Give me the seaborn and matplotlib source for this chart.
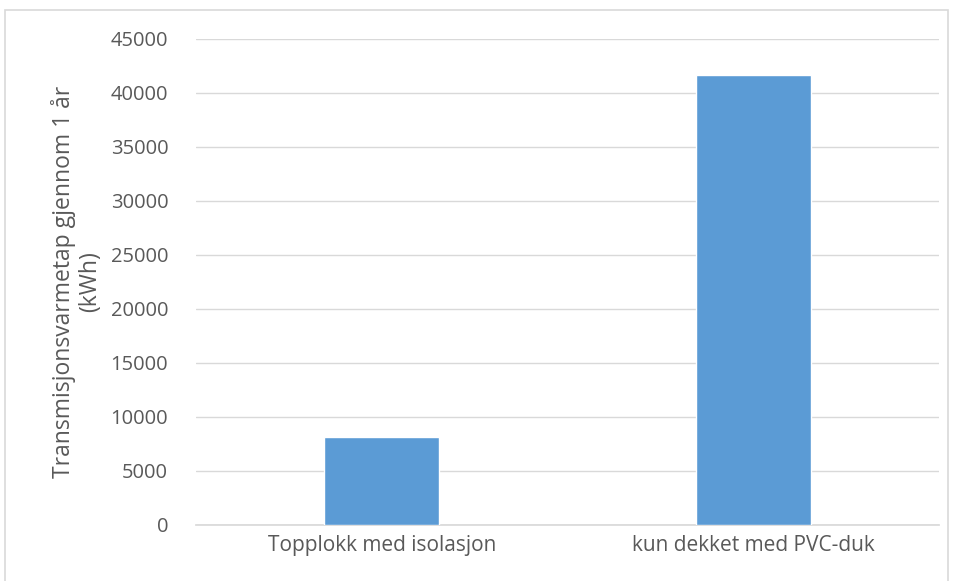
import matplotlib
matplotlib.use("Agg")
import matplotlib.pyplot as plt
import seaborn as sns
import pandas as pd
from matplotlib.patches import Rectangle

categories = ["Topplokk med isolasjon", "kun dekket med PVC-duk"]
values = [8120, 41640]
yticks = [0, 5000, 10000, 15000, 20000, 25000, 30000, 35000, 40000, 45000]

sns.set_theme(style="white")
plt.rcParams['font.family'] = ['Open Sans', 'DejaVu Sans']

df = pd.DataFrame({"cat": categories, "val": values})

fig = plt.figure(figsize=(9.55, 5.81), dpi=100)
ax = fig.add_axes([196/955, 1-525/581, (939-196)/955, (525-39)/581])

sns.barplot(data=df, x="cat", y="val", color="#5B9BD5", width=0.31, ax=ax,
            saturation=1, zorder=3)
ax.set_ylim(0, 45000)
ax.set_yticks(yticks)
ax.set_yticklabels([str(t) for t in yticks])
ax.set_xlim(-0.5, 1.5)
ax.grid(axis="y", color="#D9D9D9", linewidth=1, zorder=0)
for s in ["top", "right", "left"]:
    ax.spines[s].set_visible(False)
ax.spines["bottom"].set_color("#D9D9D9")
ax.tick_params(axis="x", length=0, labelsize=15, colors="#595959", pad=7)
ax.tick_params(axis="y", length=0, labelsize=14.5, colors="#595959", pad=20)
ax.set_xlabel("")
ax.set_ylabel("Transmisjonsvarmetap gjennom 1 år\n(kWh)", fontsize=16.5, color="#595959",
              linespacing=1.1)
ax.yaxis.set_label_coords(-0.127, 0.5)

fig.patches.append(Rectangle((5/955, -0.01), (948-5)/955, 1-10/581+0.01,
                             transform=fig.transFigure, fill=False,
                             edgecolor="#D9D9D9", linewidth=1.2))

fig.savefig("out.png", dpi=100)
